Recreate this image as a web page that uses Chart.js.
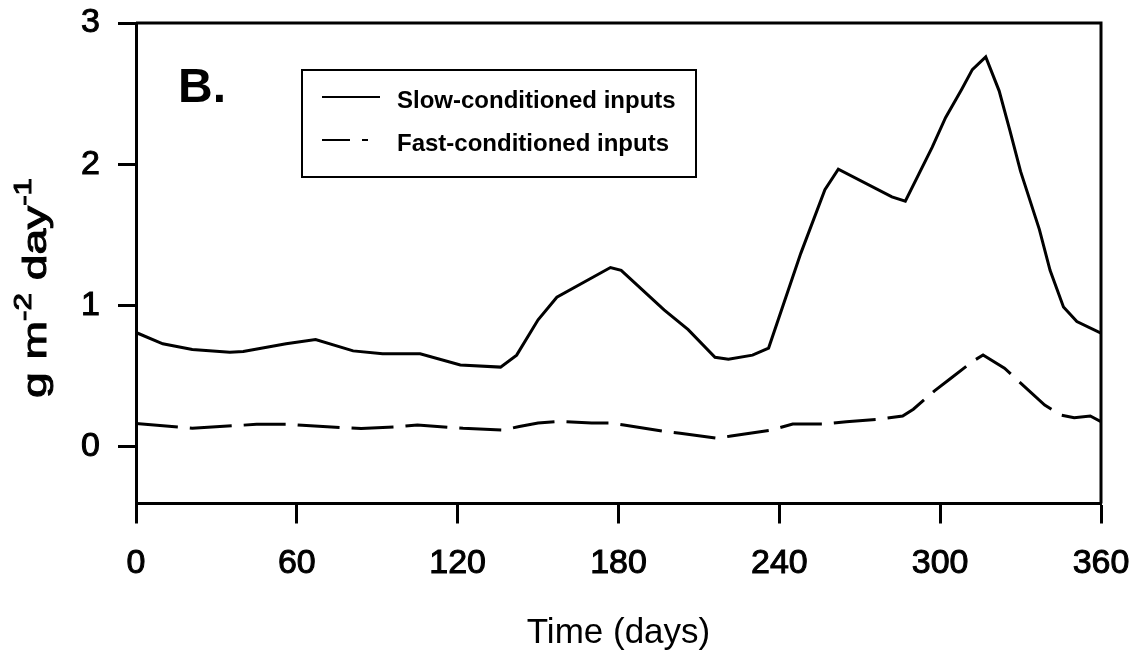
<!DOCTYPE html>
<html>
<head>
<meta charset="utf-8">
<script src="https://cdn.jsdelivr.net/npm/chart.js@4/dist/chart.umd.min.js"></script>
<style>
    html, body { margin: 0; padding: 0; background: #fff; }
    #wrap { width: 1138px; height: 656px; position: relative; }
</style>
</head>
<body>
<div id="wrap"><canvas id="chart"></canvas></div>
<script>
// Data (days, g m-2 day-1)
const slowDays = [0, 10, 21, 35, 40, 56, 67, 81, 92, 106, 121, 136, 142, 150, 157, 177, 181, 197, 206, 216, 221, 230, 236, 248, 257, 262, 282, 287, 297, 302, 308, 312, 317, 322, 326, 330, 337, 341, 346, 351, 360];
const slowValues = [0.81, 0.73, 0.69, 0.67, 0.675, 0.73, 0.76, 0.68, 0.66, 0.66, 0.58, 0.565, 0.65, 0.90, 1.06, 1.27, 1.25, 0.97, 0.83, 0.635, 0.62, 0.65, 0.70, 1.37, 1.82, 1.965, 1.77, 1.74, 2.12, 2.33, 2.53, 2.67, 2.76, 2.52, 2.24, 1.95, 1.54, 1.25, 0.99, 0.887, 0.805];
const fastDays = [0, 17, 21, 37, 45, 57, 62, 77, 84, 98, 105, 117, 122, 137, 143, 150, 158, 170, 177, 182, 198, 203, 217, 222, 237, 245, 257, 265, 278, 286, 290, 298, 304, 312, 316, 324, 339, 345, 350, 356, 360];
const fastValues = [0.167, 0.139, 0.132, 0.151, 0.16, 0.16, 0.153, 0.137, 0.13, 0.144, 0.156, 0.139, 0.132, 0.12, 0.145, 0.17, 0.18, 0.17, 0.17, 0.156, 0.108, 0.097, 0.061, 0.078, 0.12, 0.163, 0.163, 0.179, 0.198, 0.219, 0.267, 0.399, 0.486, 0.604, 0.651, 0.557, 0.297, 0.226, 0.207, 0.219, 0.179];

const xTicks = [0, 60, 120, 180, 240, 300, 360];
const yTicks = [0, 1, 2, 3];
const seriesLabels = ['Slow-conditioned inputs', 'Fast-conditioned inputs'];
const panelLabel = 'B.';
const xTitle = 'Time (days)';
const yTitleParts = [['g m', false], ['-2', true], [' day', false], ['-1', true]];

const FONT = '"Liberation Sans", Arial, Helvetica, sans-serif';

function toPoints(xs, ys) {
    return xs.map((x, i) => ({ x: x, y: ys[i] }));
}

// top and right edges of the frame
const framePlugin = {
    id: 'frame',
    afterDraw(chart) {
        const { ctx, chartArea } = chart;
        ctx.save();
        ctx.strokeStyle = '#000';
        ctx.lineWidth = 3;
        ctx.beginPath();
        ctx.moveTo(chartArea.left, chartArea.top);
        ctx.lineTo(chartArea.right, chartArea.top);
        ctx.lineTo(chartArea.right, chartArea.bottom);
        ctx.stroke();
        ctx.restore();
    }
};

// "B.", the boxed legend and the y title (with superscripts)
const annotations = {
    id: 'annotations',
    afterDraw(chart) {
        const ctx = chart.ctx;
        ctx.save();
        ctx.fillStyle = '#000';
        ctx.font = 'bold 48px ' + FONT;
        ctx.textBaseline = 'alphabetic';
        ctx.fillText(panelLabel, 178, 102);

        ctx.strokeStyle = '#000';
        ctx.lineWidth = 2;
        ctx.strokeRect(302, 70, 394, 107);

        const rows = [97, 140];
        chart.data.datasets.forEach((ds, i) => {
            ctx.lineWidth = 2;
            ctx.setLineDash(ds.borderDash && ds.borderDash.length ? [28, 12, 6, 200] : []);
            ctx.beginPath();
            ctx.moveTo(322, rows[i]);
            ctx.lineTo(i === 0 ? 380 : 368, rows[i]);
            ctx.stroke();
            ctx.setLineDash([]);
            ctx.font = 'bold 24px ' + FONT;
            ctx.fillText(ds.label, 397, rows[i] + 11);
        });

        let total = 0;
        yTitleParts.forEach(([txt, sup]) => {
            ctx.font = (sup ? '23px ' : '34px ') + FONT;
            total += ctx.measureText(txt).width;
        });
        ctx.translate(46, 398);
        ctx.rotate(-Math.PI / 2);
        ctx.scale(220 / total, 1);
        ctx.lineWidth = 1;
        let x = 0;
        yTitleParts.forEach(([txt, sup]) => {
            ctx.font = (sup ? '23px ' : '34px ') + FONT;
            ctx.fillText(txt, x, sup ? -15 : 0);
            ctx.strokeText(txt, x, sup ? -15 : 0);
            x += ctx.measureText(txt).width;
        });
        ctx.restore();
    }
};

new Chart(document.getElementById('chart'), {
    type: 'line',
    data: {
        datasets: [
            {
                label: seriesLabels[0],
                data: toPoints(slowDays, slowValues),
                borderColor: '#000',
                borderWidth: 3,
                pointRadius: 0,
                tension: 0,
                fill: false
            },
            {
                label: seriesLabels[1],
                data: toPoints(fastDays, fastValues),
                borderColor: '#000',
                borderWidth: 3,
                borderDash: [42, 12],
                pointRadius: 0,
                tension: 0,
                fill: false
            }
        ]
    },
    options: {
        responsive: true,
        maintainAspectRatio: false,
        animation: false,
        layout: { padding: { left: 0, top: 23, right: 37, bottom: 0 } },
        plugins: {
            legend: { display: false },
            tooltip: { enabled: false }
        },
        scales: {
            x: {
                type: 'linear',
                min: 0,
                max: 360,
                afterBuildTicks: (scale) => { scale.ticks = xTicks.map(v => ({ value: v })); },
                afterFit: (scale) => {
                    scale.height = 152.5;
                    scale.paddingLeft = 0;
                    scale.paddingRight = 0;
                },
                ticks: {
                    autoSkip: false,
                    maxRotation: 0,
                    color: '#000',
                    padding: 20,
                    textStrokeColor: '#000',
                    textStrokeWidth: 1,
                    font: { family: FONT, size: 34 }
                },
                grid: {
                    drawOnChartArea: false,
                    tickLength: 20,
                    tickWidth: 3,
                    tickColor: '#000'
                },
                border: { color: '#000', width: 3 },
                title: {
                    display: true,
                    text: xTitle,
                    color: '#000',
                    font: { family: FONT, size: 35 },
                    padding: { top: 0, bottom: 2 }
                }
            },
            y: {
                type: 'linear',
                min: -0.4,
                max: 3,
                afterBuildTicks: (scale) => { scale.ticks = yTicks.map(v => ({ value: v })); },
                afterFit: (scale) => {
                    scale.width = 136;
                    scale.paddingTop = 0;
                    scale.paddingBottom = 0;
                },
                ticks: {
                    color: '#000',
                    padding: 18,
                    textStrokeColor: '#000',
                    textStrokeWidth: 1,
                    font: { family: FONT, size: 34 }
                },
                grid: {
                    drawOnChartArea: false,
                    tickLength: 18,
                    tickWidth: 3,
                    tickColor: '#000'
                },
                border: { color: '#000', width: 3 }
            }
        }
    },
    plugins: [framePlugin, annotations]
});
</script>
</body>
</html>
